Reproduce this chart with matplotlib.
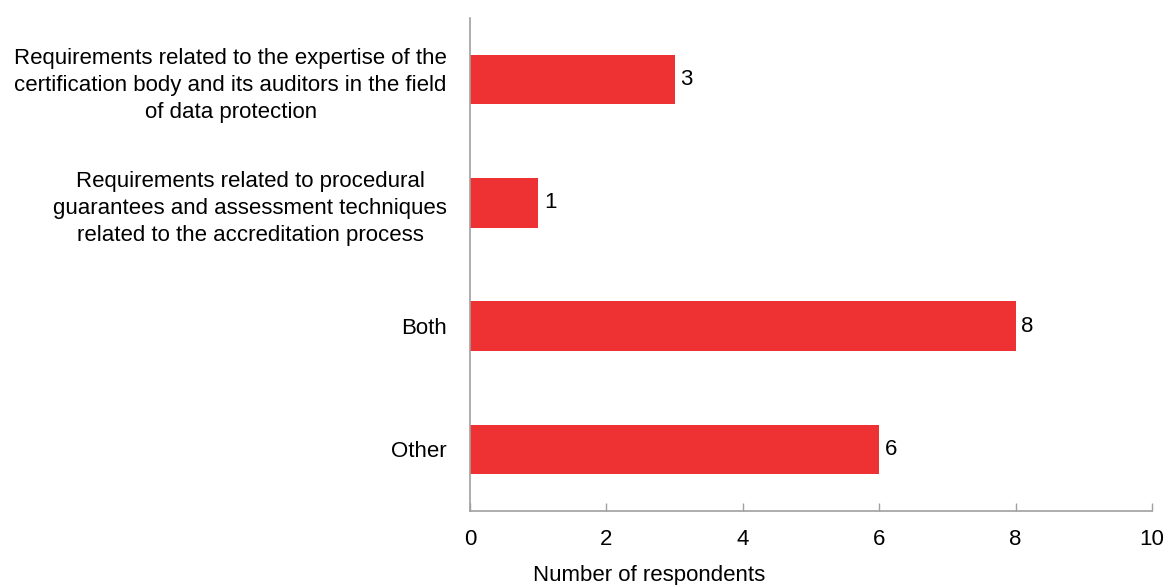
import matplotlib.pyplot as plt

# chart data
categories = [
    "Requirements related to the expertise of the\ncertification body and its auditors in the field\nof data protection",
    "Requirements related to procedural\nguarantees and assessment techniques\nrelated to the accreditation process",
    "Both",
    "Other",
]
values = [3, 1, 8, 6]
x_ticks = [0, 2, 4, 6, 8, 10]

bar_color = "#EE3133"
axis_color = "#A0A0A0"
font_size = 16

plt.rcParams['font.family'] = ['Liberation Sans', 'DejaVu Sans']

fig = plt.figure(figsize=(11.67, 5.85), dpi=100)
ax = fig.add_axes([470 / 1167, 1 - 511 / 585, 682 / 1167, 493 / 585])

positions = list(range(len(categories)))
bars = ax.barh(positions, values, height=0.4, color=bar_color)

# value labels at the end of each bar
for pos, val in zip(positions, values):
    ax.annotate(str(val), (val, pos), xytext=(4, 0), textcoords="offset points",
                va="center", ha="left", fontsize=font_size)

ax.set_xlim(0, 10)
ax.set_ylim(-0.5, len(categories) - 0.5)
ax.invert_yaxis()
ax.set_xticks(x_ticks)
ax.set_xticklabels([str(t) for t in x_ticks])
ax.set_yticks(positions)
ax.set_yticklabels(categories)

for lbl in ax.get_yticklabels():
    lbl.set_multialignment("center")
    lbl.set_linespacing(1.38)

ax.tick_params(axis="x", direction="in", length=6, width=1, color=axis_color,
               labelsize=font_size, pad=13)
ax.tick_params(axis="y", length=0, labelsize=font_size, pad=16.5)

for side in ["top", "right"]:
    ax.spines[side].set_visible(False)
for side in ["left", "bottom"]:
    ax.spines[side].set_color(axis_color)
    ax.spines[side].set_linewidth(1.2)

ax.set_xlabel("Number of respondents", fontsize=font_size)
ax.xaxis.set_label_coords(0.262, -0.11)

fig.savefig("out.png", dpi=100)
